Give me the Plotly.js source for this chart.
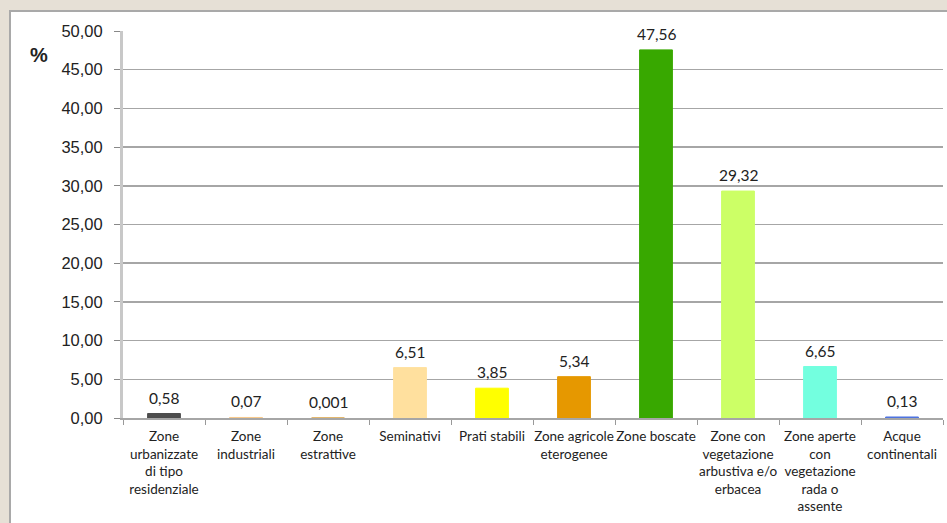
<!DOCTYPE html>
<html>
<head>
<meta charset="utf-8">
<script src="https://cdn.plot.ly/plotly-3.0.1.min.js"></script>
<style>html,body{margin:0;padding:0;background:#e6e0d6;}#chart{width:947px;height:523px;}</style>
</head>
<body>
<div id="chart"></div>
<script>
const categories = [
  "Zone<br>urbanizzate<br>di tipo<br>residenziale",
  "Zone<br>industriali",
  "Zone<br>estrattive",
  "Seminativi",
  "Prati stabili",
  "Zone agricole<br>eterogenee",
  "Zone boscate",
  "Zone con<br>vegetazione<br>arbustiva e/o<br>erbacea",
  "Zone aperte<br>con<br>vegetazione<br>rada o<br>assente",
  "Acque<br>continentali"
];
const values = [0.58, 0.07, 0.001, 6.51, 3.85, 5.34, 47.56, 29.32, 6.65, 0.13];
const barColors = ["#4d4d4d", "#f7c98a", "#d9a040", "#ffe09e", "#ffff00", "#e69800", "#38a800", "#ccff66", "#73ffdf", "#4f74e0"];
const yTicks = [0, 5, 10, 15, 20, 25, 30, 35, 40, 45, 50];

const labels = values.map(v => String(v).replace('.', ','));

// pixel helpers for frame shape (plot area: x 123..943, y 31..418)
const L = 123, R = 943, T = 31, B = 418;
const px = p => (p - L) / (R - L);
const py = p => (B - p) / (B - T);

const trace = {
  type: 'bar',
  x: categories,
  y: values,
  marker: {color: barColors, line: {color: barColors, width: 1}},
  hoverinfo: 'none'
};

const valueLabels = categories.map((c, i) => ({
  x: c, y: values[i], xref: 'x', yref: 'y',
  text: labels[i], showarrow: false,
  xanchor: 'center', yanchor: 'bottom', yshift: 5,
  font: {family: 'Lato, sans-serif', size: 15.5, color: '#222'}
}));

const layout = {
  width: 947, height: 523,
  margin: {l: L, r: 947 - R, t: T, b: 523 - B},
  paper_bgcolor: '#e6e0d6',
  plot_bgcolor: '#ffffff',
  showlegend: false,
  bargap: 0.6,
  separators: ',.',
  font: {family: 'Liberation Sans, Arial, sans-serif', color: '#222'},
  xaxis: {
    type: 'category',
    tickfont: {family: 'Lato, sans-serif', size: 13.5, color: '#222'},
    ticks: 'outside', ticklen: 5, tickcolor: '#999', tickson: 'boundaries',
    ticklabelstandoff: 5,
    showline: true, linecolor: '#a6a6a6', linewidth: 2,
    showgrid: false, tickangle: 0, automargin: false
  },
  yaxis: {
    range: [0, 50],
    tickvals: yTicks,
    tickformat: '.2f',
    tickfont: {family: 'Liberation Sans, Arial, sans-serif', size: 16.5, color: '#222'},
    ticks: 'outside', ticklen: 6, tickcolor: '#888',
    ticklabelstandoff: 8,
    showline: true, linecolor: '#c8c8c8', linewidth: 3,
    showgrid: true, gridcolor: '#a6a6a6', gridwidth: 1.5,
    zeroline: false, automargin: false
  },
  shapes: [{
    type: 'rect', xref: 'paper', yref: 'paper', layer: 'below',
    x0: px(10), x1: px(960), y0: py(540), y1: py(11),
    fillcolor: '#ffffff', line: {color: '#a9a9a9', width: 2}
  }],
  annotations: valueLabels.concat([{
    text: '<b>%</b>', xref: 'paper', yref: 'paper',
    x: px(39), y: py(55), xanchor: 'center', yanchor: 'middle', showarrow: false,
    font: {family: 'Liberation Sans, Arial, sans-serif', size: 20, color: '#222'}
  }])
};

Plotly.newPlot('chart', [trace], layout, {displayModeBar: false, staticPlot: true});
</script>
</body>
</html>
